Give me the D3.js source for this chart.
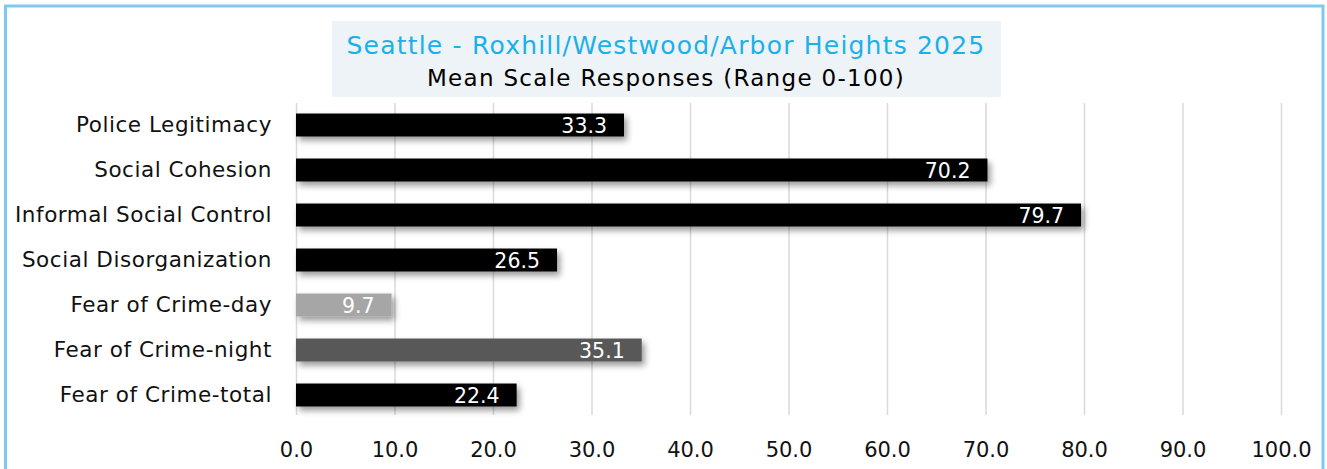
<!DOCTYPE html>
<html><head><meta charset="utf-8">
<script src="https://cdn.jsdelivr.net/npm/d3@7"></script>
<style>
html,body{margin:0;padding:0;background:#fff;overflow:hidden}
text{font-family:"DejaVu Sans",sans-serif}
</style></head>
<body><svg id="c" width="1327" height="469"></svg>
<script>
const categories = ["Police Legitimacy","Social Cohesion","Informal Social Control","Social Disorganization","Fear of Crime-day","Fear of Crime-night","Fear of Crime-total"];
const values = [33.3,70.2,79.7,26.5,9.7,35.1,22.4];
const barColors = ["#000000","#000000","#000000","#000000","#a6a6a6","#595959","#000000"];
const tickValues = [0,10,20,30,40,50,60,70,80,90,100];
const titleLine1 = "Seattle - Roxhill/Westwood/Arbor Heights 2025";
const titleLine2 = "Mean Scale Responses (Range 0-100)";

const svg = d3.select("#c");
const defs = svg.append("defs");
const f = defs.append("filter").attr("id","sh").attr("x","-10%").attr("y","-50%").attr("width","130%").attr("height","250%");
f.append("feDropShadow").attr("dx",3).attr("dy",4).attr("stdDeviation",3).attr("flood-color","#000").attr("flood-opacity",0.4);

// border
svg.append("rect").attr("x",5.5).attr("y",6).attr("width",1317.5).attr("height",480)
  .attr("fill","none").attr("stroke","#7ccbee").attr("stroke-width",3);

const x = d3.scaleLinear().domain([0,100]).range([296,1281]);
const y = d3.scaleBand().domain(categories).range([102.5,417.5]).paddingInner(0.49).paddingOuter(0.245);

// title box
svg.append("rect").attr("x",332).attr("y",21).attr("width",669).attr("height",76).attr("fill","#eef3f7");
svg.append("text").attr("x",666).attr("y",54).attr("text-anchor","middle").attr("font-size",25)
  .attr("letter-spacing",1.2).attr("fill","#1ab1ea").text(titleLine1);
svg.append("text").attr("x",666).attr("y",86).attr("text-anchor","middle").attr("font-size",23)
  .attr("letter-spacing",1.3).attr("fill","#000").text(titleLine2);

// gridlines
svg.append("g").selectAll("line").data(tickValues).join("line")
  .attr("x1",d=>x(d)+0.5).attr("x2",d=>x(d)+0.5).attr("y1",103).attr("y2",415)
  .attr("stroke","#d9d9d9").attr("stroke-width",1.5);

// x axis
const xa = svg.append("g").attr("transform","translate(0,435)")
  .call(d3.axisBottom(x).tickValues(tickValues).tickFormat(d3.format(".1f")).tickSize(0).tickPadding(7));
xa.select(".domain").remove();
xa.selectAll("text").attr("font-size",21).attr("fill","#111").attr("font-family","DejaVu Sans");

// y labels
const ya = svg.append("g").attr("transform","translate(272,0)")
  .call(d3.axisLeft(y).tickSize(0).tickPadding(0));
ya.select(".domain").remove();
ya.selectAll("text").attr("font-size",21.5).attr("letter-spacing",0.55).attr("fill","#111").attr("font-family","DejaVu Sans");

// bars
svg.append("g").selectAll("rect").data(values).join("rect")
  .attr("x",x(0)).attr("y",(d,i)=>y(categories[i]))
  .attr("width",d=>x(d)-x(0)).attr("height",y.bandwidth())
  .attr("fill",(d,i)=>barColors[i]).attr("filter","url(#sh)");

svg.append("g").selectAll("text").data(values).join("text")
  .attr("x",d=>x(d)-17).attr("y",(d,i)=>y(categories[i])+y.bandwidth()/2)
  .attr("dy","0.38em").attr("text-anchor","end").attr("font-size",20.5)
  .attr("fill","#fff").text(d=>d3.format(".1f")(d));
</script></body></html>
